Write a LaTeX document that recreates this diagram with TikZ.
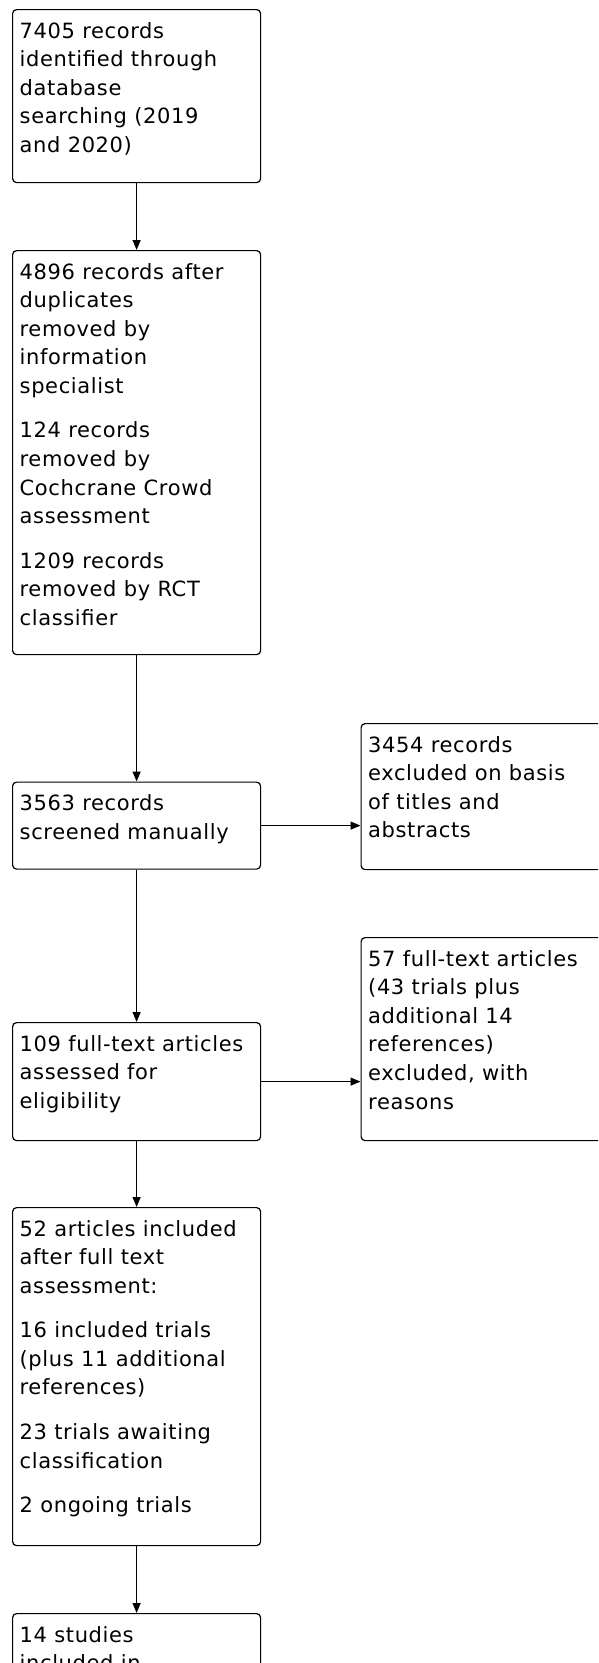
\documentclass[tikz,border=0pt]{standalone}
\usepackage{fontspec}
\setmainfont{DejaVu Sans}[LetterSpace=3]
\usetikzlibrary{arrows.meta,calc}
\newcommand\mystrut{\rule{0pt}{20pt}}
\tikzset{
  box/.style={draw=black, line width=1.2pt, rounded corners=4pt, minimum width=248pt,
    inner sep=0pt, anchor=north west},
  txt/.style={anchor=north west, inner sep=0pt, align=left,
    font=\fontsize{21pt}{28.6pt}\selectfont},
  conn/.style={line width=1.2pt, -{Triangle[length=10pt,width=8pt]}}
}
\begin{document}
\begin{tikzpicture}[x=1pt,y=-1pt]
\useasboundingbox (0,0) rectangle (598,1663);
\clip (0,0) rectangle (598,1663);
\fill[white] (0,0) rectangle (598,1663);
% boxes
\node[box, minimum height=173pt] (b1) at (12,9) {};
\node[box, minimum height=404pt] (b2) at (12,250) {};
\node[box, minimum height=87pt]  (b3) at (12,781.5) {};
\node[box, minimum height=146pt] (r1) at (360.5,723) {};
\node[box, minimum height=118pt] (b4) at (12,1022) {};
\node[box, minimum height=203pt] (r2) at (360.5,937) {};
\node[box, minimum height=338pt] (b5) at (12,1207) {};
\node[box, minimum height=140pt] (b6) at (12,1613) {};
% texts
\node[txt] (t1) at ($(b1.north west)+(7.5,8.8)$) {\mystrut 7405 records\\identified through\\database\\searching (2019\\and 2020)};
\node[txt] (t2) at ($(b2.north west)+(7.5,8.8)$) {\mystrut 4896 records after\\duplicates\\removed by\\information\\specialist\\[15.9pt]124 records\\removed by\\Cochcrane Crowd\\assessment\\[15.9pt]1209 records\\removed by RCT\\classifier};
\node[txt] (t3) at ($(b3.north west)+(7.5,8.8)$) {\mystrut 3563 records\\screened manually};
\node[txt] (t4) at ($(r1.north west)+(7.5,8.8)$) {\mystrut 3454 records\\excluded on basis\\of titles and\\abstracts};
\node[txt] (t5) at ($(b4.north west)+(7.5,8.8)$) {\mystrut 109 full-text articles\\assessed for\\eligibility};
\node[txt] (t6) at ($(r2.north west)+(7.5,8.8)$) {\mystrut 57 full-text articles\\(43 trials plus\\additional 14\\references)\\excluded, with\\reasons};
\node[txt] (t7) at ($(b5.north west)+(7.5,8.8)$) {\mystrut 52 articles included\\after full text\\assessment:\\[15.9pt]16 included trials\\(plus 11 additional\\references)\\[15.9pt]23 trials awaiting\\classification\\[15.9pt]2 ongoing trials};
\node[txt] (t8) at ($(b6.north west)+(7.5,8.8)$) {\mystrut 14 studies\\included in};
% connectors
\draw[conn] (b1.south) -- (b2.north);
\draw[conn] (b2.south) -- (b3.north);
\draw[conn] (b3.south) -- (b4.north);
\draw[conn] (b4.south) -- (b5.north);
\draw[conn] (b5.south) -- (b6.north);
\draw[conn] (b3.east) -- (b3.east -| r1.west);
\draw[conn] (b4.east) -- (b4.east -| r2.west);
\end{tikzpicture}
\end{document}
